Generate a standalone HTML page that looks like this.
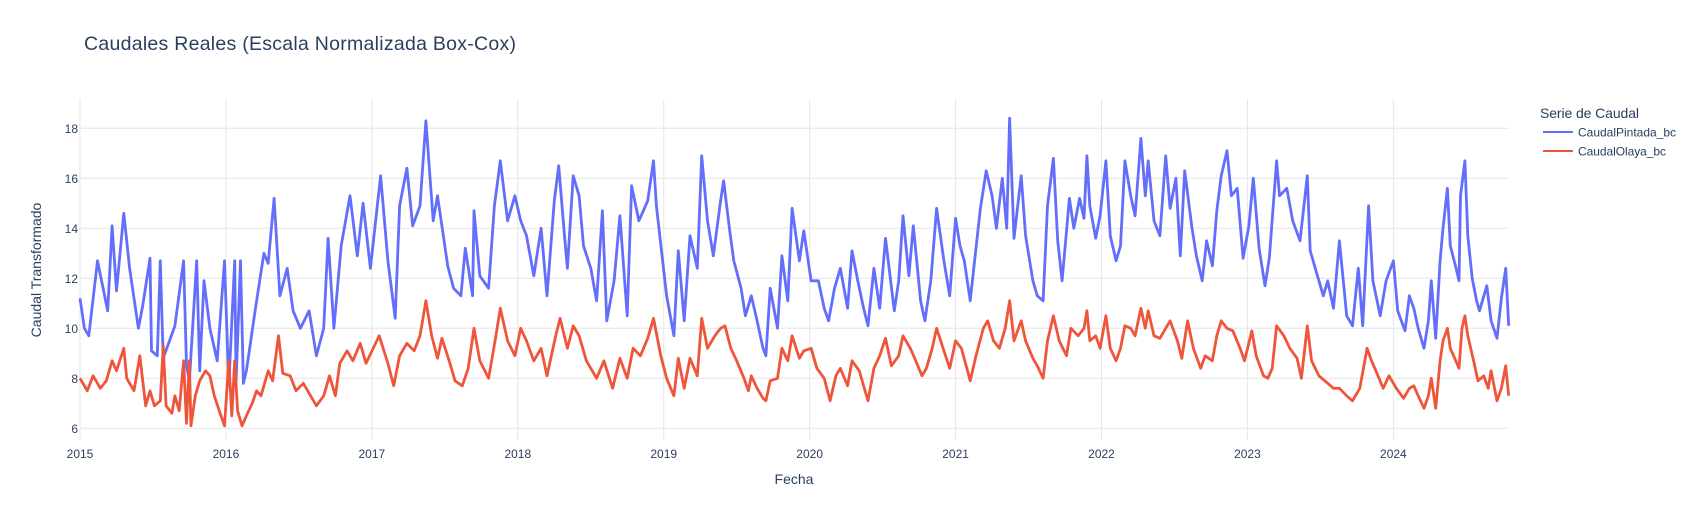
<!DOCTYPE html>
<html><head><meta charset="utf-8">
<style>
html,body{margin:0;padding:0;background:#fff;}
svg{display:block;font-family:"Liberation Sans",Arial,sans-serif;}
</style></head>
<body>
<svg id="chart" width="1694" height="525" viewBox="0 0 1694 525">
<text x="84" y="50" font-size="19.5" fill="#2a3f5f" textLength="432">Caudales Reales (Escala Normalizada Box-Cox)</text>
<g id="grid"></g>
<g id="axes"></g>
<g id="series"></g>
<text x="41" y="270" font-size="14" fill="#2a3f5f" text-anchor="middle" transform="rotate(-90 41 270)">Caudal Transformado</text>
<text x="794" y="484" font-size="14" fill="#2a3f5f" text-anchor="middle">Fecha</text>
<g>
<text x="1540" y="118" font-size="14" fill="#2a3f5f" textLength="99">Serie de Caudal</text>
<g><line x1="1543" y1="132" x2="1573" y2="132" stroke="#636efa" stroke-width="2"/><text x="1578" y="136.5" font-size="12" fill="#2a3f5f" textLength="98">CaudalPintada_bc</text></g>
<g><line x1="1543" y1="151" x2="1573" y2="151" stroke="#EF553B" stroke-width="2"/><text x="1578" y="155.5" font-size="12" fill="#2a3f5f" textLength="88">CaudalOlaya_bc</text></g>
</g>
</svg>
<script>
const yTicks = [6, 8, 10, 12, 14, 16, 18];
const xTicks = [2015, 2016, 2017, 2018, 2019, 2020, 2021, 2022, 2023, 2024];
const pintadaT = [2015.00,2015.03,2015.06,2015.12,2015.19,2015.22,2015.25,2015.30,2015.34,2015.40,2015.43,2015.48,2015.49,2015.53,2015.55,2015.57,2015.65,2015.71,2015.73,2015.75,2015.80,2015.82,2015.85,2015.89,2015.94,2015.99,2016.02,2016.06,2016.07,2016.10,2016.12,2016.14,2016.20,2016.26,2016.29,2016.33,2016.37,2016.42,2016.46,2016.51,2016.57,2016.62,2016.67,2016.70,2016.74,2016.79,2016.85,2016.90,2016.94,2016.99,2017.06,2017.11,2017.16,2017.19,2017.24,
2017.28,2017.33,2017.37,2017.39,2017.42,2017.45,2017.48,2017.52,2017.56,2017.61,2017.64,2017.69,2017.70,2017.74,2017.80,2017.84,2017.88,2017.93,2017.98,2018.02,2018.06,2018.11,2018.16,2018.20,2018.25,2018.28,2018.32,2018.34,2018.38,2018.42,2018.45,2018.50,2018.54,2018.58,2018.61,2018.66,2018.70,2018.75,2018.78,2018.83,2018.89,2018.93,2018.95,2019.02,2019.07,2019.10,2019.14,2019.18,2019.23,2019.26,2019.30,2019.34,2019.39,2019.41,2019.45,2019.48,2019.53,2019.56,
2019.60,2019.64,2019.68,2019.70,2019.73,2019.78,2019.81,2019.85,2019.88,2019.93,2019.96,2020.01,2020.06,2020.10,2020.13,2020.17,2020.21,2020.26,2020.29,2020.33,2020.37,2020.40,2020.44,2020.48,2020.52,2020.58,2020.61,2020.64,2020.68,2020.71,2020.76,2020.79,2020.83,2020.87,2020.92,2020.96,2021.00,2021.03,2021.06,2021.10,2021.13,2021.17,2021.21,2021.25,2021.28,2021.32,2021.35,2021.37,2021.40,2021.45,2021.48,2021.53,2021.56,2021.60,2021.63,2021.67,2021.70,2021.73,2021.78,2021.81,2021.85,2021.88,2021.90,
2021.92,2021.96,2021.99,2022.03,2022.06,2022.10,2022.13,2022.16,2022.20,2022.23,2022.27,2022.30,2022.32,2022.36,2022.40,2022.44,2022.47,2022.51,2022.54,2022.57,2022.62,2022.65,2022.69,2022.72,2022.76,2022.79,2022.82,2022.86,2022.89,2022.93,2022.97,2023.01,2023.04,2023.08,2023.12,2023.15,2023.20,2023.22,2023.27,2023.31,2023.36,2023.41,2023.43,2023.47,2023.52,2023.55,2023.59,2023.63,2023.68,2023.72,2023.76,2023.79,2023.83,2023.86,2023.91,2023.95,2024.00,2024.03,2024.08,2024.11,
2024.14,2024.17,2024.21,2024.24,2024.26,2024.29,2024.32,2024.34,2024.37,2024.39,2024.43,2024.45,2024.46,2024.49,2024.51,2024.54,2024.57,2024.59,2024.64,2024.67,2024.71,2024.74,2024.77,2024.79];
const pintadaV = [11.2,10.0,9.7,12.7,10.7,14.1,11.5,14.6,12.4,10.0,10.9,12.8,9.1,8.9,12.7,8.8,10.1,12.7,8.5,7.9,12.7,8.3,11.9,10.0,8.7,12.7,7.7,12.7,7.9,12.7,7.8,8.3,10.7,13.0,12.6,15.2,11.3,12.4,10.7,10.0,10.7,8.9,10.0,13.6,10.0,13.3,15.3,12.9,15.0,12.4,16.1,12.7,10.4,14.9,16.4,
14.1,14.9,18.3,16.7,14.3,15.3,14.1,12.5,11.6,11.3,13.2,11.3,14.7,12.1,11.6,14.9,16.7,14.3,15.3,14.3,13.7,12.1,14.0,11.3,15.1,16.5,13.7,12.4,16.1,15.3,13.3,12.4,11.1,14.7,10.3,11.9,14.5,10.5,15.7,14.3,15.1,16.7,14.9,11.3,9.7,13.1,10.3,13.7,12.4,16.9,14.3,12.9,15.1,15.9,14.0,12.7,11.6,10.5,
11.3,10.3,9.2,8.9,11.6,10.0,12.9,11.1,14.8,12.7,13.9,11.9,11.9,10.8,10.3,11.6,12.4,10.8,13.1,11.9,10.8,10.1,12.4,10.8,13.6,10.7,11.9,14.5,12.1,14.1,11.1,10.3,11.9,14.8,12.7,11.3,14.4,13.3,12.7,11.1,12.7,14.8,16.3,15.3,14.0,16.0,14.0,18.4,13.6,16.1,13.7,11.9,11.3,11.1,14.9,16.8,13.5,11.9,15.2,14.0,15.2,14.4,16.9,
14.9,13.6,14.5,16.7,13.7,12.7,13.3,16.7,15.3,14.5,17.6,15.3,16.7,14.3,13.7,16.9,14.8,16.0,12.9,16.3,14.0,12.9,11.9,13.5,12.5,14.7,16.1,17.1,15.3,15.6,12.8,14.1,16.0,13.2,11.7,12.8,16.7,15.3,15.6,14.3,13.5,16.1,13.1,12.3,11.3,11.9,10.8,13.5,10.5,10.1,12.4,10.1,14.9,11.9,10.5,11.9,12.7,10.7,9.9,11.3,
10.8,10.0,9.2,10.3,11.9,9.6,12.7,14.0,15.6,13.3,12.4,11.9,15.3,16.7,13.7,12.0,11.1,10.7,11.7,10.3,9.6,11.2,12.4,10.1];
const olayaT = [2015.00,2015.05,2015.09,2015.14,2015.18,2015.22,2015.25,2015.30,2015.32,2015.37,2015.41,
2015.45,2015.48,2015.51,2015.55,2015.57,2015.59,2015.63,2015.65,2015.68,2015.71,2015.73,2015.75,2015.76,2015.79,2015.82,2015.86,2015.89,2015.92,2015.96,2015.99,2016.02,2016.04,2016.06,2016.08,2016.11,2016.14,2016.18,2016.21,2016.24,2016.29,2016.32,2016.36,2016.39,2016.44,2016.48,2016.53,2016.58,2016.62,2016.67,2016.71,2016.75,2016.78,2016.83,2016.87,2016.92,2016.96,2017.05,2017.11,2017.15,2017.19,2017.24,
2017.29,2017.33,2017.37,2017.41,2017.45,2017.48,2017.53,2017.57,2017.62,2017.66,2017.70,2017.74,2017.80,2017.85,2017.88,2017.93,2017.98,2018.02,2018.06,2018.11,2018.16,2018.20,2018.26,2018.29,2018.34,2018.38,2018.42,2018.47,2018.54,2018.59,2018.65,2018.70,2018.75,2018.79,2018.84,2018.89,2018.93,2018.98,2019.02,2019.07,2019.10,2019.14,2019.18,2019.23,2019.26,2019.30,2019.35,2019.39,2019.42,2019.46,2019.50,2019.55,2019.58,
2019.60,2019.64,2019.68,2019.70,2019.73,2019.78,2019.81,2019.85,2019.88,2019.93,2019.96,2020.01,2020.05,2020.10,2020.14,2020.18,2020.21,2020.26,2020.29,2020.34,2020.37,2020.40,2020.44,2020.48,2020.52,2020.56,2020.61,2020.64,2020.69,2020.72,2020.77,2020.80,2020.84,2020.87,2020.92,2020.96,2021.00,2021.04,2021.10,2021.14,2021.19,2021.22,2021.26,2021.30,2021.34,2021.37,2021.40,2021.45,2021.48,2021.53,2021.56,2021.60,2021.63,2021.67,2021.71,2021.76,2021.79,2021.84,2021.88,2021.90,
2021.92,2021.96,2021.99,2022.03,2022.06,2022.10,2022.13,2022.16,2022.20,2022.23,2022.27,2022.30,2022.32,2022.36,2022.40,2022.44,2022.47,2022.52,2022.55,2022.59,2022.63,2022.68,2022.71,2022.76,2022.79,2022.82,2022.86,2022.90,2022.95,2022.98,2023.03,2023.06,2023.11,2023.14,2023.17,2023.20,2023.25,2023.29,2023.34,2023.37,2023.41,2023.44,2023.49,2023.53,2023.59,2023.63,2023.68,2023.72,2023.77,2023.82,2023.85,2023.88,2023.93,2023.97,2024.02,2024.07,2024.11,
2024.14,2024.17,2024.21,2024.24,2024.26,2024.29,2024.32,2024.34,2024.37,2024.39,2024.42,2024.45,2024.47,2024.49,2024.51,2024.55,2024.58,2024.62,2024.65,2024.67,2024.71,2024.74,2024.77,2024.79];
const olayaV = [8.0,7.5,8.1,7.6,7.9,8.7,8.3,9.2,8.0,7.5,8.9,
6.9,7.5,6.9,7.1,9.3,6.9,6.6,7.3,6.7,8.7,6.2,8.7,6.1,7.3,7.9,8.3,8.1,7.3,6.6,6.1,8.7,6.5,8.7,6.7,6.1,6.5,7.0,7.5,7.3,8.3,7.9,9.7,8.2,8.1,7.5,7.8,7.3,6.9,7.3,8.1,7.3,8.6,9.1,8.7,9.4,8.6,9.7,8.6,7.7,8.9,9.4,
9.1,9.7,11.1,9.7,8.8,9.6,8.7,7.9,7.7,8.4,10.0,8.7,8.0,9.7,10.8,9.5,8.9,10.0,9.5,8.7,9.2,8.1,9.7,10.4,9.2,10.1,9.7,8.7,8.0,8.7,7.6,8.8,8.0,9.2,8.9,9.6,10.4,8.9,8.0,7.3,8.8,7.6,8.8,8.1,10.4,9.2,9.7,10.0,10.1,9.2,8.7,8.0,7.5,
8.1,7.6,7.2,7.1,7.9,8.0,9.2,8.7,9.7,8.8,9.1,9.2,8.4,8.0,7.1,8.1,8.4,7.7,8.7,8.3,7.7,7.1,8.4,8.9,9.6,8.5,8.9,9.7,9.2,8.8,8.1,8.4,9.2,10.0,9.1,8.4,9.5,9.2,7.9,8.9,10.0,10.3,9.5,9.2,10.0,11.1,9.5,10.3,9.5,8.8,8.5,8.0,9.5,10.5,9.5,8.9,10.0,9.7,10.0,10.7,
9.5,9.7,9.2,10.5,9.2,8.7,9.2,10.1,10.0,9.7,10.8,10.0,10.7,9.7,9.6,10.0,10.3,9.5,8.8,10.3,9.2,8.4,8.9,8.7,9.7,10.3,10.0,9.9,9.2,8.7,9.9,8.9,8.1,8.0,8.4,10.1,9.7,9.2,8.8,8.0,10.1,8.7,8.1,7.9,7.6,7.6,7.3,7.1,7.6,9.2,8.7,8.3,7.6,8.1,7.6,7.2,7.6,
7.7,7.3,6.8,7.3,8.0,6.8,8.7,9.5,10.0,9.2,8.8,8.4,10.0,10.5,9.7,8.7,7.9,8.1,7.6,8.3,7.1,7.6,8.5,7.3];

const NS = 'http://www.w3.org/2000/svg';
const PL = 80, PR = 1509, PT = 99, PB = 440;
function xScale(t){ return PL + (t - 2015) * 145.93; }
function yScale(v){ return 128.3 + (18 - v) * 25; }

const grid = document.getElementById('grid');
const axes = document.getElementById('axes');
yTicks.forEach(v => {
  const y = yScale(v);
  const l = document.createElementNS(NS, 'line');
  l.setAttribute('x1', PL); l.setAttribute('x2', PR);
  l.setAttribute('y1', y); l.setAttribute('y2', y);
  l.setAttribute('stroke', '#e6e6e6'); l.setAttribute('stroke-width', '1');
  
  
  grid.appendChild(l);
  const tx = document.createElementNS(NS, 'text');
  tx.setAttribute('x', 78); tx.setAttribute('y', y + 4.5);
  tx.setAttribute('text-anchor', 'end'); tx.setAttribute('font-size', '12');
  tx.setAttribute('fill', '#2a3f5f');
  tx.textContent = v;
  
  
  axes.appendChild(tx);
});
xTicks.forEach(t => {
  const x = xScale(t);
  const l = document.createElementNS(NS, 'line');
  l.setAttribute('x1', x); l.setAttribute('x2', x);
  l.setAttribute('y1', PT); l.setAttribute('y2', PB);
  l.setAttribute('stroke', '#e6e6e6'); l.setAttribute('stroke-width', '1');
  
  
  grid.appendChild(l);
  const tx = document.createElementNS(NS, 'text');
  tx.setAttribute('x', x); tx.setAttribute('y', 458);
  tx.setAttribute('text-anchor', 'middle'); tx.setAttribute('font-size', '12');
  tx.setAttribute('fill', '#2a3f5f');
  tx.textContent = t;
  
  
  axes.appendChild(tx);
});

const series = document.getElementById('series');
function drawLine(ts, vs, color, name){
  let d = '';
  for (let i = 0; i < ts.length && i < vs.length; i++){
    d += (i ? 'L' : 'M') + xScale(ts[i]).toFixed(1) + ',' + yScale(vs[i]).toFixed(1);
  }
  const p = document.createElementNS(NS, 'path');
  p.setAttribute('d', d);
  p.setAttribute('fill', 'none');
  p.setAttribute('stroke', color);
  p.setAttribute('stroke-width', '2.8');
  p.setAttribute('stroke-linejoin', 'round');
  
  
  series.appendChild(p);
}
drawLine(pintadaT, pintadaV, '#636efa', 'line-caudal-pintada');
drawLine(olayaT, olayaV, '#EF553B', 'line-caudal-olaya');
</script>
</body></html>
